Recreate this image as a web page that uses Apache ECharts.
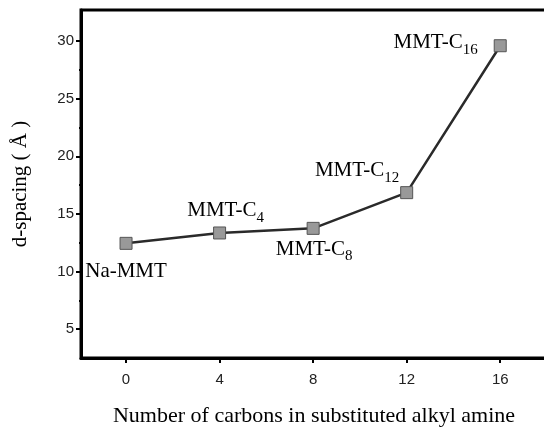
<!DOCTYPE html>
<html>
<head>
<meta charset="utf-8">
<script src="https://cdn.jsdelivr.net/npm/echarts@6/dist/echarts.min.js"></script>
<style>
  html, body { margin: 0; padding: 0; background: #fff; }
  #chart { width: 544px; height: 427px; }
</style>
</head>
<body>
<div id="chart"></div>
<script>
// Interlayer d-spacing of montmorillonite vs. alkyl chain length
const carbons = [0, 4, 8, 12, 16];
const dSpacing = [12.45, 13.35, 13.75, 16.85, 29.6];
const sampleNames = ['Na-MMT', 'MMT-C4', 'MMT-C8', 'MMT-C12', 'MMT-C16'];
const subscripts = ['', '4', '8', '12', '16'];
const xTicks = [0, 4, 8, 12, 16];
const xMinorTicks = [2, 6, 10, 14];
const yTicks = [5, 10, 15, 20, 25, 30];
const yMinorTicks = [7.5, 12.5, 17.5, 22.5, 27.5];

// label placement around each marker
const labelPlacement = [
  { position: 'bottom', distance: 11, offset: [0, 0] },
  { position: 'top', distance: 5, offset: [6, 0] },
  { position: 'bottom', distance: 4, offset: [1, 0] },
  { position: 'left', distance: 1, offset: [0, -22] },
  { position: 'left', distance: 16, offset: [0, -3] }
];

const serif = '"Liberation Serif", "DejaVu Serif", serif';
const sans = '"Liberation Sans", Arial, sans-serif';

const seriesData = carbons.map((c, i) => {
  const sub = subscripts[i];
  const main = sub ? sampleNames[i].slice(0, sampleNames[i].length - sub.length) : sampleNames[i];
  return {
    value: [c, dSpacing[i]],
    label: {
      show: true,
      position: labelPlacement[i].position,
      distance: labelPlacement[i].distance,
      offset: labelPlacement[i].offset,
      formatter: sub ? '{m|' + main + '}{s|' + sub + '}' : '{m|' + main + '}'
    }
  };
});

const chart = echarts.init(document.getElementById('chart'), null, { renderer: 'canvas' });

const axisLineStyle = { show: true, onZero: false, lineStyle: { color: '#000', width: 3 } };

chart.setOption({
  animation: false,
  backgroundColor: '#fff',
  grid: {
    left: 81, top: 10, width: 466, height: 348,
    outerBoundsMode: 'none', containLabel: false,
    show: true, borderColor: '#000', borderWidth: 3, backgroundColor: 'transparent'
  },
  xAxis: [
    {
      type: 'value', min: -1.926, max: 18,
      axisLine: axisLineStyle,
      axisTick: { show: true, customValues: xTicks, length: 5, lineStyle: { color: '#000', width: 2 } },
      axisLabel: { customValues: xTicks, margin: 14, color: '#222', fontFamily: sans, fontSize: 15 },
      splitLine: { show: false },
      name: 'Number of carbons in substituted alkyl amine',
      nameLocation: 'middle', nameGap: 47,
      nameTextStyle: { fontFamily: serif, fontSize: 22, color: '#000' }
    },
    {
      type: 'value', min: -1.926, max: 18, position: 'bottom',
      axisLine: { show: false, onZero: false },
      axisTick: { show: true, customValues: xMinorTicks, length: 2, lineStyle: { color: '#000', width: 2 } },
      axisLabel: { show: false },
      splitLine: { show: false }
    }
  ],
  yAxis: [
    {
      type: 'value', min: 2.5, max: 32.7,
      axisLine: axisLineStyle,
      axisTick: { show: true, customValues: yTicks, length: 5, lineStyle: { color: '#000', width: 2 } },
      axisLabel: { customValues: yTicks, margin: 7, color: '#222', fontFamily: sans, fontSize: 15 },
      splitLine: { show: false },
      name: 'd-spacing ( Å )',
      nameLocation: 'middle', nameGap: 50, nameRotate: 90,
      nameTextStyle: { fontFamily: serif, fontSize: 21, color: '#000' }
    },
    {
      type: 'value', min: 2.5, max: 32.7, position: 'left',
      axisLine: { show: false, onZero: false },
      axisTick: { show: true, customValues: yMinorTicks, length: 2, lineStyle: { color: '#000', width: 2 } },
      axisLabel: { show: false },
      splitLine: { show: false }
    }
  ],
  series: [{
    type: 'line',
    xAxisIndex: 0, yAxisIndex: 0,
    data: seriesData,
    symbol: 'rect',
    symbolSize: 12,
    lineStyle: { color: '#2a2a2a', width: 2.5 },
    itemStyle: { color: '#999', borderColor: '#555', borderWidth: 1 },
    label: {
      color: '#000',
      rich: {
        m: { fontFamily: serif, fontSize: 21, color: '#000', lineHeight: 21, verticalAlign: 'top' },
        s: { fontFamily: serif, fontSize: 15, color: '#000', lineHeight: 15, verticalAlign: 'top', padding: [10, 0, 0, 0] }
      }
    }
  }]
});
</script>
</body>
</html>
